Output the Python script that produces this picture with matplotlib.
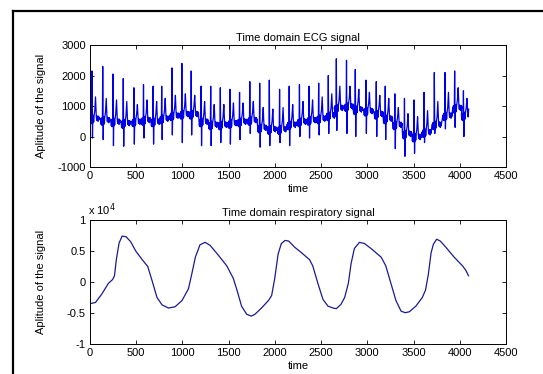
import numpy as np
import matplotlib
matplotlib.use("Agg")
import matplotlib.pyplot as plt
from matplotlib.lines import Line2D
from matplotlib.ticker import FuncFormatter

plt.rcParams['font.family'] = ['Liberation Sans', 'DejaVu Sans']

# ECG beats: R peak time / height, S dip, baseline, T wave peak
r_time = [22, 138, 249, 360, 475, 579, 683, 776, 886, 994,
          1095, 1202, 1306, 1410, 1514, 1618, 1729, 1836, 1940, 2051,
          2155, 2266, 2370, 2474, 2578, 2665, 2775, 2870, 2985, 3097,
          3194, 3298, 3402, 3506, 3614, 3725, 3840, 3945, 4040]
r_amp = [2150, 2300, 2050, 1900, 1600, 1700, 1650, 1650, 2250, 2400,
         2150, 1650, 1650, 1600, 1550, 1450, 1800, 1750, 1850, 1550,
         1650, 1700, 1650, 1750, 2000, 2550, 2500, 2200, 1850, 1800,
         1650, 1400, 1250, 1200, 1450, 2100, 2100, 2150, 1500]
s_amp = [-50, -100, -300, -320, -250, -50, -250, -100, 50, -200,
         50, -300, -300, -200, -250, -100, 100, -350, -300, -200,
         -300, 0, -50, 50, 100, 200, 100, 0, 100, 0,
         -100, -400, -650, -550, -200, 100, 250, 300, 0]
base = [600, 550, 500, 450, 500, 550, 500, 600, 700, 750,
        750, 500, 400, 400, 450, 500, 550, 300, 250, 250,
        400, 500, 550, 600, 700, 950, 1000, 900, 850, 750,
        600, 400, 100, 0, 150, 400, 700, 950, 700]
t_amp = [1300, 1250, 1200, 1150, 1050, 1200, 1150, 1250, 1350, 1400,
         1350, 1150, 1050, 1050, 1100, 1100, 1150, 950, 900, 950,
         1050, 1150, 1200, 1300, 1400, 1650, 1650, 1550, 1450, 1350,
         1250, 950, 750, 650, 850, 1150, 1450, 1600, 1250]
ecg_start = (0, 700)
ecg_end = (4096, 900)

# respiratory signal
resp_t = [0, 60, 130, 200, 245, 265, 285, 315, 348, 390, 440, 495, 565, 625,
          670, 725, 780, 850, 920, 995, 1065, 1100, 1140, 1190, 1245, 1300,
          1390, 1480, 1550, 1590, 1640, 1695, 1745, 1785, 1855, 1930, 1965,
          2000, 2035, 2070, 2110, 2150, 2215, 2290, 2375, 2410, 2465, 2520,
          2575, 2630, 2665, 2715, 2755, 2795, 2825, 2860, 2915, 2970, 3040,
          3150, 3200, 3255, 3310, 3365, 3410, 3455, 3525, 3595, 3630, 3660,
          3690, 3715, 3750, 3790, 3850, 3940, 4030, 4065, 4095]
resp_v = [-3500, -3300, -1900, -200, 400, 1000, 3600, 6300, 7400, 7300, 6500,
          5000, 3600, 2500, 300, -2500, -3700, -4200, -4000, -3000, -1100,
          1200, 4000, 6000, 6400, 5900, 4300, 2600, 600, -1300, -3900,
          -5200, -5500, -5200, -4200, -3000, -2200, 700, 4500, 6200, 6700,
          6600, 5600, 4700, 3600, 2600, -200, -2800, -3900, -4200, -4300,
          -3600, -2500, -200, 3000, 5400, 6400, 6200, 5400, 4000, 2600,
          -200, -3000, -4700, -4950, -4800, -3900, -2500, -1300, 1200,
          4700, 6100, 6900, 6600, 5600, 4000, 2600, 1900, 1000]

# build ECG polyline from the beat readings
offs = [-22, -18, -14, -10, -7, -4, 0, 5, 9, 12, 15, 18, 21, 25, 30, 38,
        46, 50, 54, 58, 62, 66, 70, 74, 78]
ecg_t = [ecg_start[0]]
ecg_v = [ecg_start[1]]
for rt, ra, sa, b, ta in zip(r_time, r_amp, s_amp, base, t_amp):
    vals = [b, b - 150, b + 60, b - 180, b + 40, b - 100, ra, sa,
            b + 100, b - 150, b + 80, b - 120, b + 60, b + 150, b + 250, ta,
            b + 60, b - 60, b + 80, b - 80, b + 40, b - 100, b + 70, b - 50, b + 30]
    for o, v in zip(offs, vals):
        if 0 < rt + o < ecg_end[0]:
            ecg_t.append(rt + o)
            ecg_v.append(v)
ecg_t.append(ecg_end[0])
ecg_v.append(ecg_end[1])

fig = plt.figure(figsize=(5.43, 3.74), dpi=100)
ax1 = fig.add_axes([0.1657, 0.5535, 0.7661, 0.326])
ax2 = fig.add_axes([0.1657, 0.0802, 0.7661, 0.3316])

fmt = FuncFormatter(lambda v, p: '%g' % v)
fmt4 = FuncFormatter(lambda v, p: '%g' % (v / 1e4))

ax1.plot(ecg_t, ecg_v, color='#0000e6', lw=0.9)
ax1.set_xlim(0, 4500)
ax1.set_ylim(-1000, 3000)
ax1.set_yticks([-1000, 0, 1000, 2000, 3000])
ax1.yaxis.set_major_formatter(fmt)
ax1.set_title('Time domain ECG signal', fontsize=8, pad=3)

ax2.plot(resp_t, resp_v, color='#1a1a90', lw=0.9)
ax2.set_xlim(0, 4500)
ax2.set_ylim(-10000, 10000)
ax2.set_yticks([-10000, -5000, 0, 5000, 10000])
ax2.yaxis.set_major_formatter(fmt4)
ax2.set_title('Time domain respiratory signal', fontsize=8, pad=3)
ax2.text(-0.005, 1.015, 'x 10$^{4}$', transform=ax2.transAxes, fontsize=8,
         va='bottom', ha='left')

for ax in (ax1, ax2):
    ax.set_xticks(np.arange(0, 4501, 500))
    ax.xaxis.set_major_formatter(fmt)
    ax.set_xlabel('time', fontsize=8, labelpad=2)
    ax.set_ylabel('Aplitude of the signal', fontsize=8)
    ax.yaxis.set_label_coords(-0.105, 0.5)
    ax.tick_params(direction='in', top=True, right=True, labelsize=8,
                   length=3, width=0.6, pad=3)
    for s in ax.spines.values():
        s.set_linewidth(0.7)

# black frame lines on left and top of the picture
fig.add_artist(Line2D([13 / 543, 13 / 543], [0, 1 - 11 / 374], color='k', lw=1.6,
                      transform=fig.transFigure))
fig.add_artist(Line2D([13 / 543, 1], [1 - 11 / 374, 1 - 11 / 374], color='k', lw=1.6,
                      transform=fig.transFigure))

fig.savefig('out.png', dpi=100)
